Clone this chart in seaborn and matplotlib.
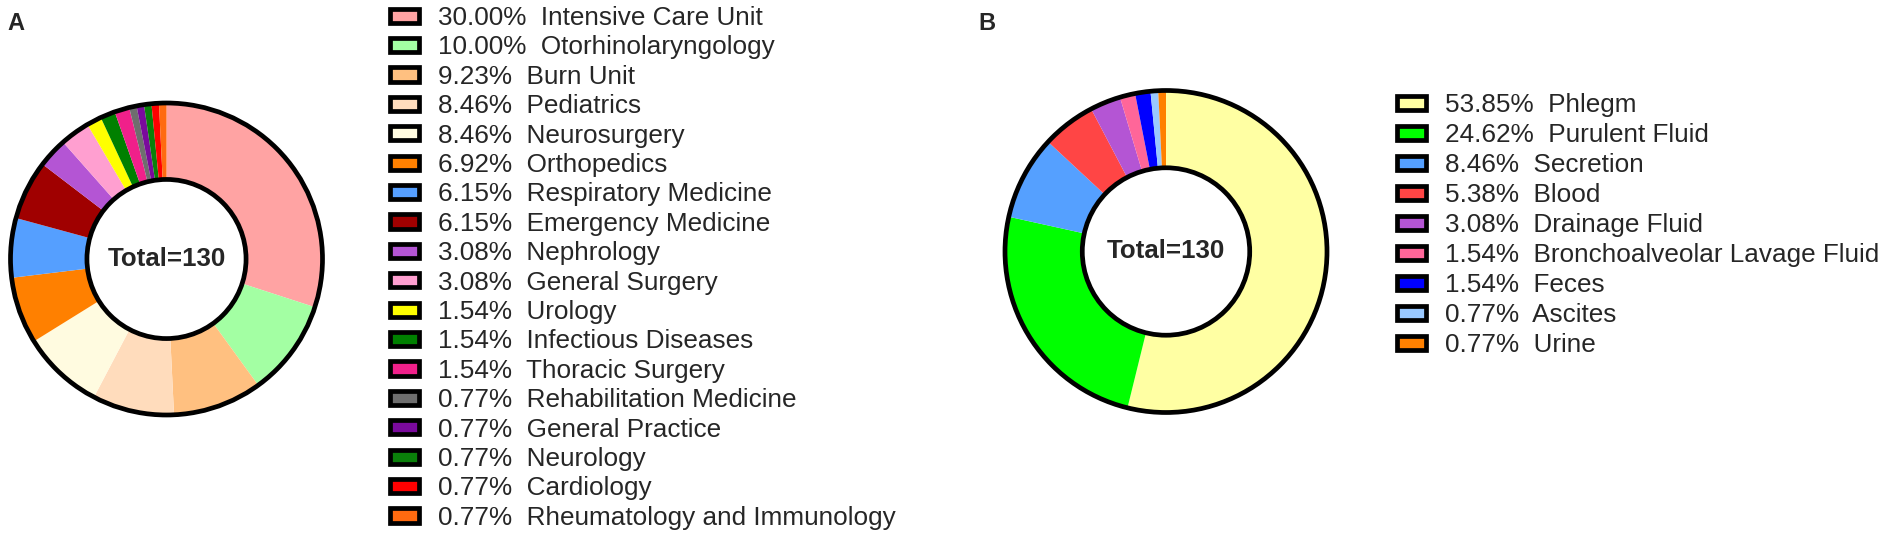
"""Donut charts of isolate sources by department (A) and specimen type (B)."""

import matplotlib

matplotlib.use("Agg", force=True)

import matplotlib.pyplot as plt
from matplotlib.patches import Circle, Patch
import seaborn as sns

# --- data -----------------------------------------------------------------
dept_names = [
    "Intensive Care Unit", "Otorhinolaryngology", "Burn Unit", "Pediatrics",
    "Neurosurgery", "Orthopedics", "Respiratory Medicine", "Emergency Medicine",
    "Nephrology", "General Surgery", "Urology", "Infectious Diseases",
    "Thoracic Surgery", "Rehabilitation Medicine", "General Practice",
    "Neurology", "Cardiology", "Rheumatology and Immunology",
]
dept_counts = [39, 13, 12, 11, 11, 9, 8, 8, 4, 4, 2, 2, 2, 1, 1, 1, 1, 1]
dept_pct = [
    "30.00%", "10.00%", "9.23%", "8.46%", "8.46%", "6.92%", "6.15%", "6.15%",
    "3.08%", "3.08%", "1.54%", "1.54%", "1.54%", "0.77%", "0.77%", "0.77%",
    "0.77%", "0.77%",
]
dept_colors = [
    "#ffa3a3", "#a3ffa3", "#ffc080", "#ffdcbc", "#fffbe0", "#ff8000",
    "#559fff", "#a00000", "#b455d4", "#ff9fd0", "#ffff00", "#008000",
    "#f0208a", "#6e6e6e", "#7a0a9c", "#0a800a", "#ff0000", "#ff6a10",
]

spec_names = [
    "Phlegm", "Purulent Fluid", "Secretion", "Blood", "Drainage Fluid",
    "Bronchoalveolar Lavage Fluid", "Feces", "Ascites", "Urine",
]
spec_counts = [70, 32, 11, 7, 4, 2, 2, 1, 1]
spec_pct = ["53.85%", "24.62%", "8.46%", "5.38%", "3.08%", "1.54%", "1.54%",
            "0.77%", "0.77%"]
spec_colors = [
    "#ffffa3", "#00ff00", "#55a0ff", "#ff4545", "#b455d4", "#ff6699",
    "#0000ff", "#99c8ff", "#ff8000",
]

total_label = "Total=130"

# --- style ----------------------------------------------------------------
sns.set_theme(style="white")
plt.rcParams["font.family"] = ["Liberation Sans", "DejaVu Sans"]

W, H = 1901, 541
DPI = 100
LW = 3.4  # ring / patch outline, ~4.7 px
FS = 18.8  # legend font size


def donut(fig, cx, cy, r, inner, counts, colors):
    """Draw one donut; cx, cy, r in pixels (y from top)."""
    ax = fig.add_axes([(cx - r) / W, (H - cy - r) / H, 2 * r / W, 2 * r / H])
    ax.pie(counts, colors=colors, startangle=90, counterclock=False,
           radius=1.0, wedgeprops=dict(linewidth=0))
    ax.add_patch(Circle((0, 0), 1.0, fill=False, edgecolor="black",
                        linewidth=LW, clip_on=False, zorder=3))
    ax.add_patch(Circle((0, 0), inner, facecolor="white", edgecolor="black",
                        linewidth=LW, clip_on=False, zorder=3))
    ax.text(0, 0, total_label, ha="center", va="center", fontsize=18.6,
            fontweight="bold", zorder=4)
    ax.set_xlim(-1, 1)
    ax.set_ylim(-1, 1)
    ax.set_aspect("equal")
    ax.axis("off")
    return ax


def legend(fig, x, y, pcts, names, colors, spacing):
    handles = [Patch(facecolor=c, edgecolor="black", linewidth=LW)
               for c in colors]
    labels = [f"{p}  {n}" for p, n in zip(pcts, names)]
    fig.legend(handles, labels, loc="upper left",
               bbox_to_anchor=(x / W, 1 - y / H), frameon=False,
               fontsize=FS, borderpad=0, borderaxespad=0,
               handlelength=1.1, handleheight=0.46, handletextpad=0.75,
               labelspacing=spacing)


fig = plt.figure(figsize=(W / DPI, H / DPI), dpi=DPI)

donut(fig, 166.5, 259, 156, 0.51, dept_counts, dept_colors)
legend(fig, 390, 6, dept_pct, dept_names, dept_colors, 0.207)

donut(fig, 1166, 251.5, 161, 0.52, spec_counts, spec_colors)
legend(fig, 1397, 93, spec_pct, spec_names, spec_colors, 0.232)

fig.text(7 / W, 1 - 12 / H, "A", fontsize=17, fontweight="bold",
         ha="left", va="top")
fig.text(978 / W, 1 - 12 / H, "B", fontsize=17, fontweight="bold",
         ha="left", va="top")

fig.savefig("out.png", dpi=DPI)
plt.close(fig)
